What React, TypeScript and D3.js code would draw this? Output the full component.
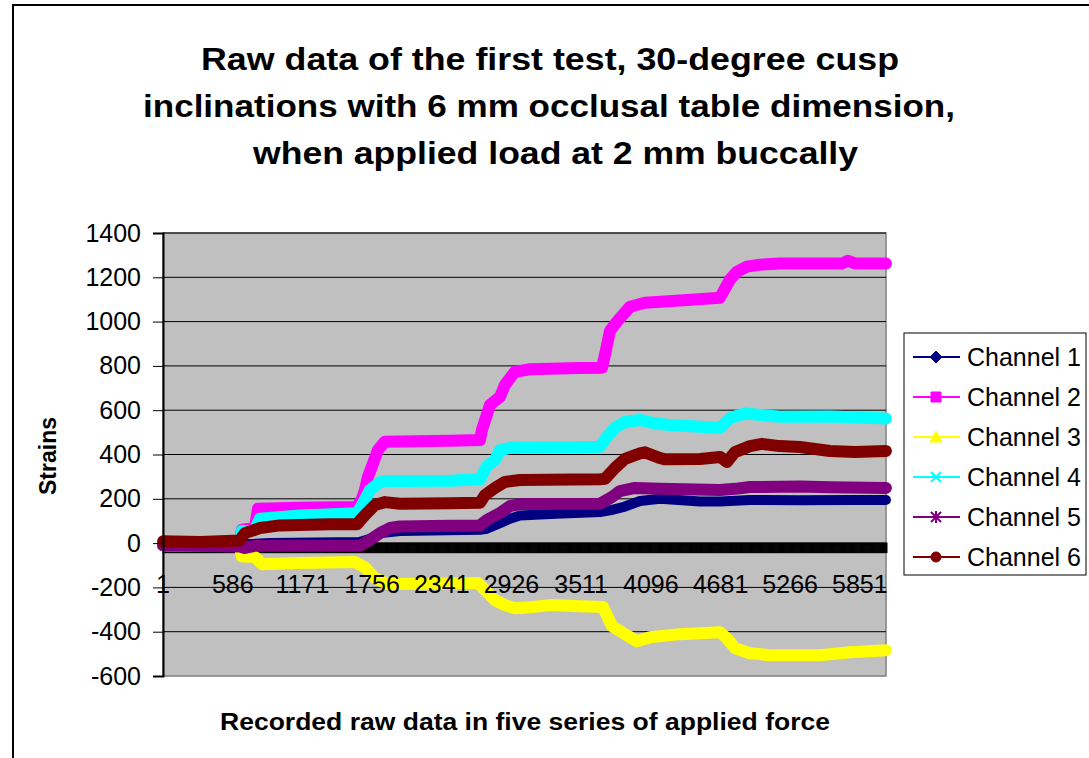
import React, { useEffect, useRef } from 'react';
import * as d3 from 'd3';

// number of recorded samples (category axis)
const pointCount = 6070;
const xTickLabels = [1, 586, 1171, 1756, 2341, 2926, 3511, 4096, 4681, 5266, 5851];
const yTicks = [-600, -400, -200, 0, 200, 400, 600, 800, 1000, 1200, 1400];

const titleLines = [
  'Raw data of the first test, 30-degree cusp',
  'inclinations with 6 mm occlusal table dimension,',
  'when applied load at 2 mm buccally',
];
const xTitle = 'Recorded raw data in five series of applied force';
const yTitle = 'Strains';

const channelNames = ['Channel 1', 'Channel 2', 'Channel 3', 'Channel 4', 'Channel 5', 'Channel 6'];
const channelColors = ['#000080', '#FF00FF', '#FFFF00', '#00FFFF', '#800080', '#800000'];

// [sample index, strain]
const channel1: [number, number][] = [
  [1, -8], [646, -8], [700, -5], [900, 0], [1650, 5], [1740, 20], [1830, 45], [1990, 55],
  [2660, 60], [2720, 65], [2830, 90], [2913, 110], [2997, 125], [3300, 132], [3669, 140],
  [3753, 148], [3879, 165], [4005, 190], [4173, 200], [4509, 188], [4677, 188], [4761, 190],
  [4928, 195], [5348, 193], [5768, 195], [6070, 195],
];
const channel2: [number, number][] = [
  [1, -10], [646, -10], [663, 60], [772, 70], [798, 155], [1150, 160], [1629, 163], [1671, 200],
  [1696, 240], [1721, 298], [1805, 420], [1864, 458], [2410, 462], [2662, 465], [2678, 510],
  [2746, 624], [2830, 660], [2871, 714], [2955, 773], [3081, 785], [3501, 790], [3686, 792],
  [3711, 850], [3753, 958], [3812, 1000], [3921, 1067], [4047, 1085], [4341, 1095], [4677, 1108],
  [4761, 1190], [4819, 1225], [4903, 1248], [5012, 1257], [5180, 1262], [5700, 1262],
  [5751, 1275], [5810, 1262], [6070, 1262],
];
const channel3: [number, number][] = [
  [1, -10], [646, -12], [663, -60], [772, -62], [831, -95], [1150, -90], [1612, -85],
  [1696, -110], [1780, -158], [1889, -185], [2410, -182], [2645, -180], [2704, -212],
  [2788, -258], [2871, -280], [2955, -294], [3081, -290], [3249, -280], [3501, -285],
  [3694, -288], [3770, -375], [3879, -411], [3980, -443], [4089, -425], [4341, -411],
  [4677, -402], [4735, -430], [4803, -475], [4928, -497], [5096, -506], [5516, -506],
  [5768, -493], [6070, -484],
];
const channel4: [number, number][] = [
  [1, -10], [646, -10], [663, 55], [772, 60], [814, 110], [1150, 125], [1629, 135], [1671, 172],
  [1738, 240], [1822, 275], [1864, 280], [2410, 282], [2662, 288], [2720, 348], [2788, 375],
  [2830, 420], [2913, 430], [3300, 432], [3669, 435], [3728, 480], [3795, 520], [3879, 547],
  [4005, 556], [4131, 540], [4257, 533], [4509, 525], [4677, 520], [4761, 565], [4886, 585],
  [5180, 570], [5600, 572], [6070, 562],
];
const channel5: [number, number][] = [
  [1, -10], [646, -15], [688, -22], [772, -12], [1150, -12], [1654, -12], [1738, 14],
  [1822, 45], [1906, 68], [1990, 75], [2410, 78], [2662, 80], [2720, 104], [2830, 136],
  [2913, 167], [2997, 176], [3669, 178], [3770, 208], [3837, 235], [3963, 249], [4173, 245],
  [4677, 240], [4803, 245], [4928, 253], [5348, 255], [5600, 252], [6070, 249],
];
const channel6: [number, number][] = [
  [1, 8], [311, 5], [646, 12], [688, 45], [814, 68], [982, 80], [1150, 82], [1400, 85],
  [1629, 85], [1696, 127], [1780, 172], [1864, 185], [1990, 178], [2410, 180], [2662, 182],
  [2704, 217], [2788, 249], [2871, 276], [2997, 285], [3669, 288], [3711, 290], [3795, 339],
  [3879, 380], [4005, 405], [4047, 410], [4173, 384], [4215, 378], [4509, 380], [4677, 389],
  [4735, 366], [4803, 411], [4928, 438], [5029, 448], [5180, 438], [5348, 434], [5600, 416],
  [5810, 411], [6070, 416],
];
const channels = [channel1, channel2, channel3, channel4, channel5, channel6];

const FONT = '"Liberation Sans", Arial, sans-serif';

// excel-like marker shapes
const markerPath = (k: number, s: number) => {
  const h = s / 2;
  switch (k) {
    case 0: return `M0,${-h - 1}L${h + 1},0L0,${h + 1}L${-h - 1},0Z`;
    case 1: return `M${-h},${-h}H${h}V${h}H${-h}Z`;
    case 2: return `M0,${-h - 1}L${h + 1},${h}L${-h - 1},${h}Z`;
    case 3: return `M${-h},${-h}L${h},${h}M${h},${-h}L${-h},${h}`;
    case 4: return `M${-h},${-h}L${h},${h}M${h},${-h}L${-h},${h}M0,${-h - 1}V${h + 1}`;
    default: return d3.symbol(d3.symbolCircle, s * s * 0.8)() || '';
  }
};

const App: React.FC = () => {
  const svgRef = useRef<SVGSVGElement>(null);

  useEffect(() => {
    document.body.style.margin = '0';
    if (!svgRef.current) return;
    const svg = d3.select(svgRef.current);
    svg.selectAll('*').remove();

    const left = 163, right = 886, top = 233, bottom = 676;

    const x = d3.scaleLinear().domain([0.5, pointCount + 0.5]).range([left, right]);
    const y = d3.scaleLinear().domain([-600, 1400]).range([bottom, top]);

    // chart area
    svg.append('rect')
      .attr('x', 13).attr('y', 5).attr('width', 1100).attr('height', 800)
      .attr('fill', '#fff').attr('stroke', '#000').attr('stroke-width', 2);

    // title
    const titleX = [201, 143, 253];
    const titleW = [698, 812, 605];
    const titleY = [70, 117, 164];
    titleLines.forEach((t, i) => {
      svg.append('text')
        .attr('x', titleX[i]).attr('y', titleY[i])
        .attr('textLength', titleW[i]).attr('lengthAdjust', 'spacingAndGlyphs')
        .style('font-family', FONT).style('font-size', '32px').style('font-weight', 'bold')
        .text(t);
    });

    // plot area
    svg.append('rect')
      .attr('x', left).attr('y', top).attr('width', right - left).attr('height', bottom - top)
      .attr('fill', '#C0C0C0').attr('stroke', '#808080').attr('stroke-width', 1.5);

    svg.append('g')
      .selectAll('line')
      .data(yTicks.filter(v => v !== -600))
      .enter().append('line')
      .attr('x1', left).attr('x2', right)
      .attr('y1', d => y(d)).attr('y2', d => y(d))
      .attr('stroke', '#000').attr('stroke-width', 1);

    // category axis at 0 with dense tick marks
    const xAxis = svg.append('g')
      .attr('transform', `translate(0,${y(0)})`)
      .call(d3.axisBottom(x).tickValues(d3.range(1, pointCount + 1, 4)).tickSize(10).tickFormat(() => ''));
    xAxis.select('.domain').attr('stroke', '#000').attr('stroke-width', 2);
    xAxis.selectAll('.tick line').attr('stroke', '#000').attr('stroke-width', 1);

    // series
    const line = d3.line<[number, number]>()
      .x(d => x(d[0]))
      .y(d => y(d[1]))
      .curve(d3.curveLinear);

    channels.forEach((data, k) => {
      svg.append('path')
        .datum(data)
        .attr('d', line)
        .attr('fill', 'none')
        .attr('stroke', channelColors[k])
        .attr('stroke-width', k === 0 ? 10 : 12)
        .attr('stroke-linejoin', 'round')
        .attr('stroke-linecap', 'round');
    });

    // y axis
    const yAxis = svg.append('g')
      .attr('transform', `translate(${left},0)`)
      .call(d3.axisLeft(y).tickValues(yTicks).tickSize(10).tickPadding(12).tickFormat(d => String(d)));
    yAxis.select('.domain').attr('stroke', '#000').attr('stroke-width', 2);
    yAxis.selectAll('.tick line').attr('stroke', '#000');
    yAxis.selectAll('.tick text')
      .attr('fill', '#000')
      .style('font-family', FONT).style('font-size', '25px');

    // x tick labels
    svg.append('g')
      .selectAll('text')
      .data(xTickLabels)
      .enter().append('text')
      .attr('x', d => x(d))
      .attr('y', 593)
      .attr('text-anchor', 'middle')
      .style('font-family', FONT).style('font-size', '25px')
      .text(d => d);

    // axis titles
    svg.append('text')
      .attr('x', 220).attr('y', 730)
      .attr('textLength', 610).attr('lengthAdjust', 'spacingAndGlyphs')
      .style('font-family', FONT).style('font-size', '23px').style('font-weight', 'bold')
      .text(xTitle);

    svg.append('text')
      .attr('transform', 'translate(56,456) rotate(-90)')
      .attr('text-anchor', 'middle')
      .style('font-family', FONT).style('font-size', '23px').style('font-weight', 'bold')
      .text(yTitle);

    // legend
    const lg = svg.append('g');
    lg.append('rect')
      .attr('x', 904).attr('y', 333).attr('width', 182).attr('height', 242)
      .attr('fill', '#fff').attr('stroke', '#000').attr('stroke-width', 1);

    channelNames.forEach((name, k) => {
      const cy = 357 + k * 40;
      const row = lg.append('g');
      row.append('line')
        .attr('x1', 913).attr('x2', 960).attr('y1', cy).attr('y2', cy)
        .attr('stroke', channelColors[k]).attr('stroke-width', 2);
      const stroked = k === 3 || k === 4;
      row.append('path')
        .attr('transform', `translate(936,${cy})`)
        .attr('d', markerPath(k, 10))
        .attr('fill', stroked ? 'none' : channelColors[k])
        .attr('stroke', channelColors[k])
        .attr('stroke-width', stroked ? 2 : 1);
      row.append('text')
        .attr('x', 967).attr('y', cy + 9)
        .style('font-family', FONT).style('font-size', '25px')
        .text(name);
    });
  }, []);

  return <svg ref={svgRef} width={1089} height={758} style={{ display: 'block' }} />;
};

export default App;
